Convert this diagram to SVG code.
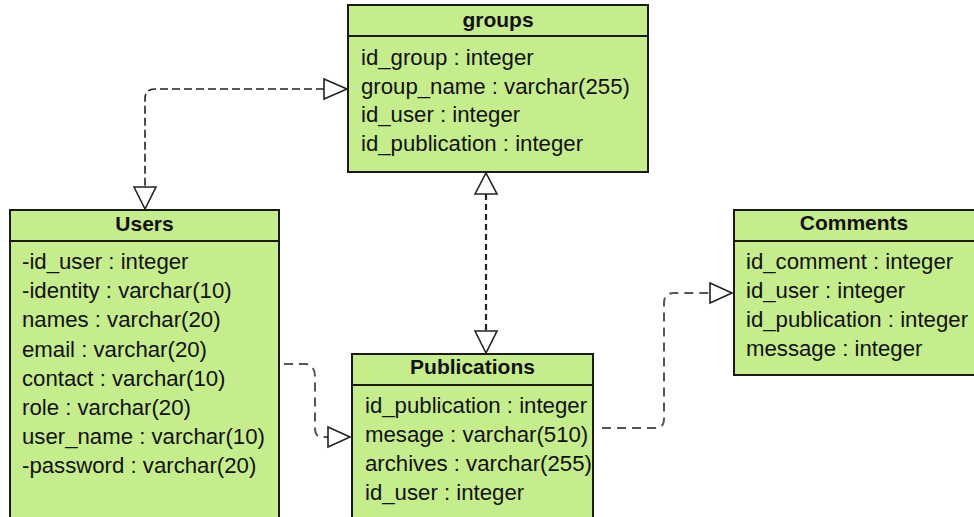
<svg xmlns="http://www.w3.org/2000/svg" width="974" height="517" viewBox="0 0 974 517">
<style>
.box{fill:#c6ed8b;stroke:#1a1a1a;stroke-width:2}
.sep{stroke:#1a1a1a;stroke-width:2}
.t{font-family:"Liberation Sans",Arial,sans-serif;font-size:22.2px;fill:#111}
.h{font-family:"Liberation Sans",Arial,sans-serif;font-size:21px;font-weight:bold;fill:#111;text-anchor:middle}
.c{fill:none;stroke:#222;stroke-width:1.6;stroke-dasharray:8,4}
.c2{fill:none;stroke:#222;stroke-width:2.2;stroke-dasharray:6,4}
.c3{fill:none;stroke:#555;stroke-width:2;stroke-dasharray:9,6}
.a{fill:#fff;stroke:#222;stroke-width:1.6}
</style>
<rect width="974" height="517" fill="#fff"/>
<g id="connectors">
<path class="c" d="M324,89 H155 Q145,89 145,99 V187"/>
<path class="a" d="M324,79 L347,89 L324,99 Z"/>
<path class="a" d="M134,187 L145,209 L156,187 Z"/>
<path class="c2" d="M486,194 V330"/>
<path class="a" d="M475,194 L486,173 L497,194 Z"/>
<path class="a" d="M475,331 L486,353 L497,331 Z"/>
<path class="c3" d="M284,364 H306 Q315,366 315,376 V428 Q315,437 322,437 H328"/>
<path class="a" d="M328,427 L350,437 L328,447 Z"/>
<path class="c3" d="M602,428 H655 Q664,428 664,419 V303 Q664,293 674,293 H710"/>
<path class="a" d="M710,283 L732,293 L710,303 Z"/>
</g>
<g id="groups">
<rect class="box" x="348" y="5" width="300" height="167"/>
<line class="sep" x1="348" y1="36" x2="648" y2="36"/>
<text class="h" x="498" y="27">groups</text>
<text class="t" x="361" y="65">id_group : integer</text>
<text class="t" x="361" y="93.5">group_name : varchar(255)</text>
<text class="t" x="361" y="122">id_user : integer</text>
<text class="t" x="361" y="150.5">id_publication : integer</text>
</g>
<g id="users">
<rect class="box" x="10" y="210" width="269" height="320"/>
<line class="sep" x1="10" y1="241" x2="279" y2="241"/>
<text class="h" x="144.5" y="231">Users</text>
<text class="t" x="22" y="269">-id_user : integer</text>
<text class="t" x="22" y="298">-identity : varchar(10)</text>
<text class="t" x="22" y="327">names : varchar(20)</text>
<text class="t" x="22" y="356.5">email : varchar(20)</text>
<text class="t" x="22" y="385.5">contact : varchar(10)</text>
<text class="t" x="22" y="414.5">role : varchar(20)</text>
<text class="t" x="22" y="443.5">user_name : varchar(10)</text>
<text class="t" x="22" y="472.5">-password : varchar(20)</text>
</g>
<g id="publications">
<rect class="box" x="352" y="354" width="241" height="180"/>
<line class="sep" x1="352" y1="385" x2="593" y2="385"/>
<text class="h" x="472.5" y="374">Publications</text>
<text class="t" x="365" y="413">id_publication : integer</text>
<text class="t" x="365" y="442">mesage : varchar(510)</text>
<text class="t" x="365" y="471">archives : varchar(255)</text>
<text class="t" x="365" y="500">id_user : integer</text>
</g>
<g id="comments">
<rect class="box" x="734" y="210" width="260" height="165"/>
<line class="sep" x1="734" y1="241" x2="994" y2="241"/>
<text class="h" x="854" y="230">Comments</text>
<text class="t" x="746" y="268.5">id_comment : integer</text>
<text class="t" x="746" y="297.5">id_user : integer</text>
<text class="t" x="746" y="327">id_publication : integer</text>
<text class="t" x="746" y="356">message : integer</text>
</g>
</svg>
